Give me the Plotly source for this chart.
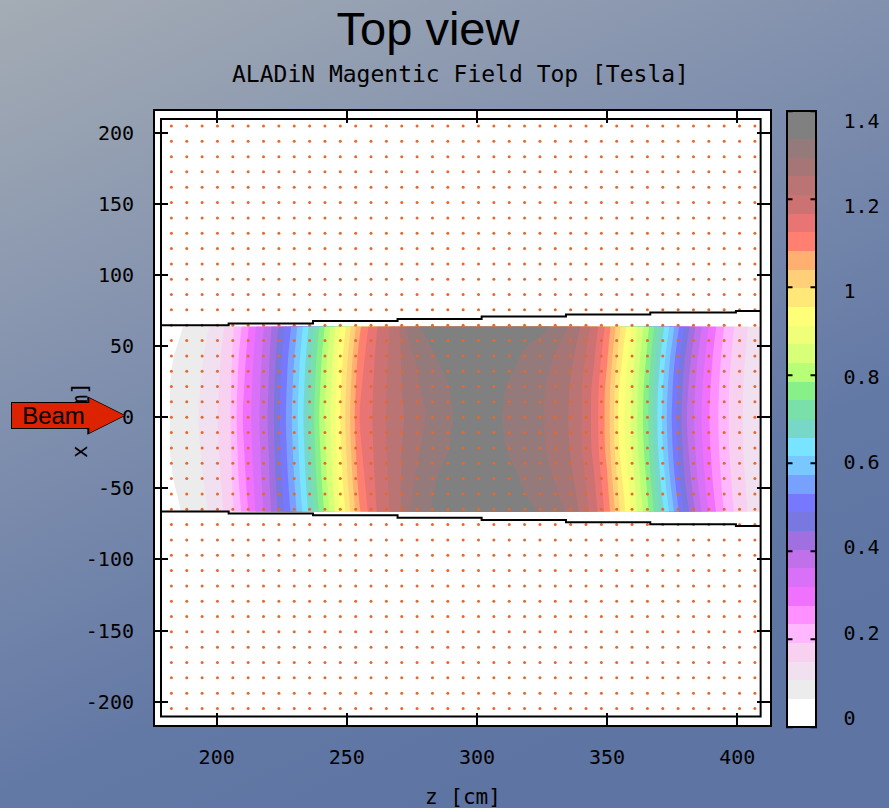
import base64
import plotly.graph_objects as go

# ---------------------------------------------------------------------------
# Field map of the ALADiN dipole, top view.  Columns are positions along the
# beam (z, cm), rows are transverse positions (x, cm); values in Tesla.
# ---------------------------------------------------------------------------
field_z = [182, 185, 190, 195, 200, 205, 210, 215, 220, 225, 230, 235, 240,
           245, 250, 255, 260, 265, 270, 275, 280, 285, 290, 295, 300, 305,
           310, 315, 320, 325, 330, 335, 340, 345, 350, 355, 360, 365, 370,
           375, 380, 385, 390, 395, 400, 405, 409]
field_x = [-66.5, -44, -22, 0, 21, 42, 63.8]

field_edge_bottom = [0.032, 0.04, 0.055, 0.078, 0.108, 0.152, 0.228, 0.308, 0.378, 0.465,
                     0.555, 0.655, 0.76, 0.865, 0.975, 1.09, 1.168, 1.212, 1.262, 1.318,
                     1.35, 1.366, 1.374, 1.378, 1.379, 1.378, 1.375, 1.37, 1.362, 1.354,
                     1.335, 1.305, 1.262, 1.203, 1.12, 1.005, 0.902, 0.81, 0.698, 0.585,
                     0.468, 0.37, 0.289, 0.216, 0.162, 0.123, 0.104]
field_mid_outer = [0.04, 0.048, 0.066, 0.088, 0.118, 0.16, 0.245, 0.318, 0.388, 0.48,
                   0.572, 0.672, 0.78, 0.885, 0.998, 1.115, 1.175, 1.218, 1.262, 1.305,
                   1.34, 1.358, 1.368, 1.374, 1.377, 1.374, 1.368, 1.36, 1.345, 1.332,
                   1.31, 1.288, 1.244, 1.185, 1.099, 0.979, 0.884, 0.787, 0.668, 0.551,
                   0.435, 0.346, 0.27, 0.202, 0.152, 0.118, 0.101]
field_mid_inner = [0.044, 0.053, 0.072, 0.093, 0.124, 0.166, 0.255, 0.325, 0.395, 0.49,
                   0.583, 0.683, 0.792, 0.897, 1.012, 1.13, 1.18, 1.223, 1.262, 1.295,
                   1.322, 1.344, 1.358, 1.368, 1.374, 1.369, 1.359, 1.347, 1.333, 1.318,
                   1.297, 1.274, 1.230, 1.169, 1.080, 0.954, 0.868, 0.770, 0.647, 0.530,
                   0.414, 0.331, 0.259, 0.193, 0.146, 0.114, 0.098]
field_center = [0.046, 0.055, 0.075, 0.096, 0.128, 0.17, 0.262, 0.33, 0.40, 0.495,
                0.59, 0.69, 0.80, 0.905, 1.02, 1.14, 1.183, 1.225, 1.258, 1.285,
                1.312, 1.336, 1.354, 1.366, 1.372, 1.366, 1.355, 1.344, 1.33, 1.316,
                1.296, 1.27, 1.227, 1.167, 1.076, 0.946, 0.862, 0.764, 0.639, 0.52,
                0.405, 0.324, 0.253, 0.191, 0.145, 0.113, 0.097]
field_edge_top = [0.03, 0.038, 0.052, 0.075, 0.105, 0.15, 0.225, 0.305, 0.375, 0.46,
                  0.55, 0.65, 0.755, 0.86, 0.97, 1.085, 1.165, 1.21, 1.265, 1.345,
                  1.362, 1.372, 1.378, 1.38, 1.38, 1.38, 1.378, 1.374, 1.37, 1.365,
                  1.35, 1.313, 1.267, 1.207, 1.123, 1.011, 0.906, 0.813, 0.701, 0.589,
                  0.471, 0.373, 0.291, 0.218, 0.163, 0.124, 0.105]

field_rows = [field_edge_bottom, field_mid_outer, field_mid_inner, field_center,
              field_mid_inner, field_mid_outer, field_edge_top]

# contour levels / colour bands (0 .. 1.4 T in 32 steps)
level_start = 0.0
level_end = 1.4
level_step = 0.04375
band_colors = [
    '#ffffff', '#ececec', '#f0e0f0', '#f8d0f0', '#ffb8ff', '#ff90ff', '#f070ff', '#d870f8',
    '#c070e8', '#a070e0', '#7878e0', '#7878ff', '#78a0ff', '#78c8ff', '#78e4ff', '#78d8c8',
    '#78e0a8', '#88f088', '#b8ff78', '#d8ff78', '#f0ff78', '#ffff78', '#ffe878', '#ffd078',
    '#ffb070', '#ff8070', '#e87474', '#cc7272', '#ba7474', '#a67676', '#947a7a', '#808080',
]
cb_tickvals = [0, 0.2, 0.4, 0.6, 0.8, 1.0, 1.2, 1.4]
cb_ticktext = ['0', '0.2', '0.4', '0.6', '0.8', '1', '1.2', '1.4']

# axis ticks
z_tickvals = [200, 250, 300, 350, 400]
z_ticktext = ['200', '250', '300', '350', '400']
x_tickvals = [200, 150, 100, 50, 0, -50, -100, -150, -200]
x_ticktext = ['200', '150', '100', '50', '0', '-50', '-100', '-150', '-200']

# sampling grid of the field map (orange dots)
dot_z = [182.6, 188.5, 194.4, 200.3, 206.2, 212.1, 218.0, 223.9, 229.8, 235.7,
         241.6, 247.5, 253.4, 259.3, 265.2, 271.1, 277.0, 282.9, 288.8, 294.7,
         300.6, 306.5, 312.4, 318.3, 324.2, 330.1, 336.0, 341.9, 347.8, 353.7,
         359.6, 365.5, 371.4, 377.3, 383.2, 389.1, 395.0, 400.9, 406.8]
dot_x = [-204.8, -194.0, -183.2, -172.5, -161.7, -150.9, -140.1, -129.4, -118.6, -107.8,
         -97.0, -86.3, -75.5, -64.7, -53.9, -43.1, -32.3, -21.6, -10.8, 0.0,
         10.8, 21.6, 32.3, 43.1, 53.9, 64.7, 75.5, 86.3, 97.0, 107.8,
         118.6, 129.4, 140.1, 150.9, 161.7, 172.5, 183.2, 194.0, 204.8]

# magnet gap outline (stepped pole edges)
gap_z = [178.6, 204.6, 237.0, 269.5, 301.8, 334.2, 366.6, 399.5, 409.0]
gap_top = [64.7, 65.9, 67.7, 69.0, 70.8, 72.3, 73.6, 74.6, 74.6]
gap_bottom = [-66.3, -67.7, -68.9, -70.6, -72.2, -73.8, -75.3, -76.4, -76.4]

# ---------------------------------------------------------------------------
# page geometry (pixels)
FIG_W, FIG_H = 889, 808
PLOT_L, PLOT_R, PLOT_T, PLOT_B = 155, 770, 111, 725
Z_RANGE = [176.3, 412.6]
X_RANGE = [-216.4, 215.3]
INNER_FRAME = dict(z0=178.6, z1=409.0, x0=-210.5, x1=209.7)
CB_LEFT, CB_RIGHT, CB_TOP, CB_BOTTOM = 787, 816, 111.3, 727.3

MONO = 'DejaVu Sans Mono'
SANS = 'Liberation Sans'


def paper_x(px):
    return (px - PLOT_L) / (PLOT_R - PLOT_L)


def paper_y(py):
    return (PLOT_B - py) / (PLOT_B - PLOT_T)


# stepped colour scale, one flat step per band
colorscale = []
n_bands = len(band_colors)
for i, c in enumerate(band_colors):
    colorscale.append([i / n_bands, c])
    colorscale.append([(i + 1) / n_bands, c])

fig = go.Figure()

fig.add_trace(go.Contour(
    x=field_z, y=field_x, z=field_rows,
    coloraxis='coloraxis',
    contours=dict(start=level_start, end=level_end, size=level_step,
                  coloring='fill', showlines=False),
    line=dict(width=0),
    hoverinfo='skip',
))

fig.add_trace(go.Scatter(
    x=[z for _ in dot_x for z in dot_z],
    y=[x for x in dot_x for _ in dot_z],
    mode='markers',
    marker=dict(size=3, color='#e4692e', line=dict(width=0)),
    hoverinfo='skip',
))

for edge in (gap_top, gap_bottom):
    fig.add_trace(go.Scatter(
        x=gap_z, y=edge, mode='lines', line=dict(color='black', width=2, shape='hv'),
        hoverinfo='skip',
    ))

# background gradient of the page
bg_svg = (
    '<svg xmlns="http://www.w3.org/2000/svg" width="889" height="808">'
    '<defs><linearGradient id="g" x1="0" y1="0" x2="0.5" y2="1">'
    '<stop offset="0" stop-color="#a4acb4"/>'
    '<stop offset="0.4" stop-color="#8291ae"/>'
    '<stop offset="0.8" stop-color="#6278a5"/>'
    '<stop offset="1" stop-color="#5e74a2"/>'
    '</linearGradient></defs>'
    '<rect width="889" height="808" fill="url(#g)"/></svg>'
)
bg_uri = 'data:image/svg+xml;base64,' + base64.b64encode(bg_svg.encode()).decode()

annotations = [
    dict(text='ALADiN Magentic Field Top [Tesla]', x=paper_x(460), y=paper_y(74),
         xref='paper', yref='paper', showarrow=False, xanchor='center', yanchor='middle',
         font=dict(family=MONO, size=23, color='black')),
    dict(text='z [cm]', x=paper_x(462.5), y=paper_y(797), xref='paper', yref='paper',
         showarrow=False, xanchor='center', yanchor='middle',
         font=dict(family=MONO, size=21, color='black')),
    dict(text='x [cm]', x=paper_x(80), y=paper_y(420), xref='paper', yref='paper',
         showarrow=False, xanchor='center', yanchor='middle', textangle=-90,
         font=dict(family=MONO, size=21, color='black')),
]

# colour bar tick marks on both inner edges of the bar
cb_len_px = CB_BOTTOM - CB_TOP
for v in cb_tickvals:
    py = CB_BOTTOM - (v - level_start) / (level_end - level_start) * cb_len_px
    for px, dx in ((CB_LEFT - 1, 8), (CB_RIGHT + 1, -8)):
        annotations.append(dict(
            text='', x=paper_x(px), y=paper_y(py), xref='paper', yref='paper',
            showarrow=True, arrowhead=0, arrowwidth=2, arrowcolor='black',
            ax=dx, ay=0, standoff=0))

# beam arrow: dark outline of the head, then the labelled red arrow
annotations.append(dict(
    text='', x=paper_x(125.8), y=paper_y(415.5), xref='paper', yref='paper',
    showarrow=True, arrowhead=2, arrowsize=3.85, arrowwidth=2, arrowcolor='black',
    ax=-44, ay=0, standoff=0))
annotations.append(dict(
    text='Beam', x=paper_x(124.3), y=paper_y(415.5), xref='paper', yref='paper',
    showarrow=True, arrowhead=2, arrowsize=3.5, arrowwidth=2, arrowcolor='#dd2200',
    ax=-71, ay=0, standoff=0,
    width=81, height=23, align='center', borderpad=1, borderwidth=1,
    bordercolor='black', bgcolor='#dd2200',
    font=dict(family=SANS, size=24, color='black')))

axis_common = dict(
    showgrid=False, zeroline=False, showline=True, linecolor='black', linewidth=2,
    mirror='ticks', ticks='inside', tickcolor='black', tickwidth=2,
    tickfont=dict(family=MONO, size=20, color='black'),
)

fig.update_layout(
    width=FIG_W, height=FIG_H,
    margin=dict(l=PLOT_L, r=FIG_W - PLOT_R, t=PLOT_T, b=FIG_H - PLOT_B, pad=0,
                autoexpand=False),
    paper_bgcolor='#8190ad', plot_bgcolor='white',
    showlegend=False,
    title=dict(text='Top view', x=428 / FIG_W, xanchor='center', xref='container',
               y=1 - 29 / FIG_H, yanchor='middle', yref='container',
               font=dict(family=SANS, size=47, color='black')),
    xaxis=dict(range=Z_RANGE, tickvals=z_tickvals, ticktext=z_ticktext,
               ticklen=12, ticklabelstandoff=13, **axis_common),
    yaxis=dict(range=X_RANGE, tickvals=x_tickvals, ticktext=x_ticktext,
               ticklen=13, ticklabelstandoff=15, **axis_common),
    coloraxis=dict(
        cmin=level_start, cmax=level_end, colorscale=colorscale,
        colorbar=dict(
            x=paper_x(CB_LEFT), xanchor='left', xpad=0, ypad=0,
            y=paper_y((CB_TOP + CB_BOTTOM) / 2), yanchor='middle',
            lenmode='pixels', len=cb_len_px, thicknessmode='pixels',
            thickness=CB_RIGHT - CB_LEFT,
            outlinewidth=2, outlinecolor='black',
            tickvals=cb_tickvals, ticktext=cb_ticktext,
            ticks='outside', ticklen=23, tickcolor='rgba(0,0,0,0)',
            tickfont=dict(family=MONO, size=20, color='black'),
        ),
    ),
    shapes=[
        # white plotting area drawn over the page gradient
        dict(type='rect', xref='paper', yref='paper', x0=0, x1=1, y0=0, y1=1,
             fillcolor='white', line=dict(width=0), layer='below'),
        dict(type='rect', xref='x', yref='y',
             x0=INNER_FRAME['z0'], x1=INNER_FRAME['z1'],
             y0=INNER_FRAME['x0'], y1=INNER_FRAME['x1'],
             line=dict(color='black', width=2), layer='above'),
    ],
    images=[dict(source=bg_uri, xref='paper', yref='paper',
                 x=-PLOT_L / (PLOT_R - PLOT_L), y=1 + PLOT_T / (PLOT_B - PLOT_T),
                 sizex=FIG_W / (PLOT_R - PLOT_L), sizey=FIG_H / (PLOT_B - PLOT_T),
                 xanchor='left', yanchor='top', sizing='stretch', layer='below')],
    annotations=annotations,
)

fig.write_html('out.html', config={'displayModeBar': False})
